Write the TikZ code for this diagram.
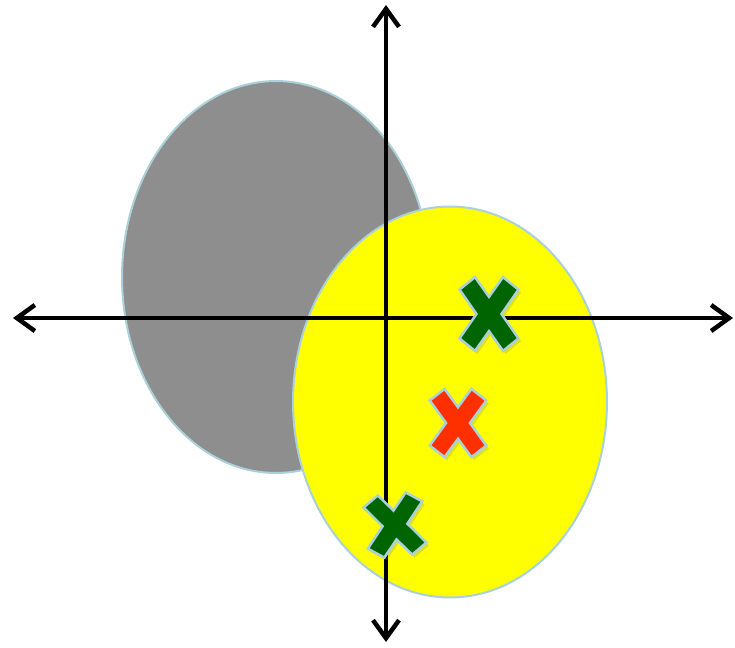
\documentclass[tikz,border=0pt]{standalone}
\usepackage{tikz}
\usetikzlibrary{arrows.meta,shapes.geometric,shadows}

\definecolor{rimblue}{RGB}{170,208,218}
\definecolor{blobgray}{RGB}{142,142,142}
\definecolor{blobyellow}{RGB}{255,255,0}
\definecolor{markgreen}{RGB}{0,100,0}
\definecolor{markred}{RGB}{255,48,0}

\tikzset{
  blob/.style={ellipse, draw=rimblue, line width=0.04cm, inner sep=0pt},
  axis/.style={line width=0.09cm, {Straight Barb[length=0.36cm,width=0.52cm]}-{Straight Barb[length=0.36cm,width=0.52cm]}},
  xmark/.pic={
    \path[pic actions, draw=rimblue, line width=0.05cm,
          drop shadow={shadow xshift=0.05cm, shadow yshift=-0.06cm, opacity=0.25}]
      (-14,-35.5) -- (0,-16.5) -- (14,-35.5) -- (29.5,-23.5) -- (12.5,0)
      -- (29.5,23.5) -- (14,35.5) -- (0,16.5) -- (-14,35.5) -- (-29.5,23.5)
      -- (-12.5,0) -- (-29.5,-23.5) -- cycle;
  }
}

\begin{document}
\begin{tikzpicture}[x=0.02cm, y=-0.02cm]
\useasboundingbox (0,0) rectangle (735,647);
% the two clusters
\node[blob, fill=blobgray, minimum width=6.16cm, minimum height=7.84cm] (grayblob) at (276,277) {};
\node[blob, fill=blobyellow, minimum width=6.28cm, minimum height=7.82cm] (yellowblob) at (450,402) {};
% axes
\coordinate (west) at (13,318);
\coordinate (east) at (733,318);
\coordinate (north) at (386,5);
\coordinate (south) at (386,642);
\draw[axis] (west) -- (east);
\draw[axis] (south) -- (north);
% points
\pic[fill=markgreen, yscale=1.04] at (489,314) {xmark};
\pic[fill=markred, scale=0.96] at (458,423) {xmark};
\pic[fill=markgreen, rotate=6, yscale=0.88] at (395,525) {xmark};
\end{tikzpicture}
\end{document}
